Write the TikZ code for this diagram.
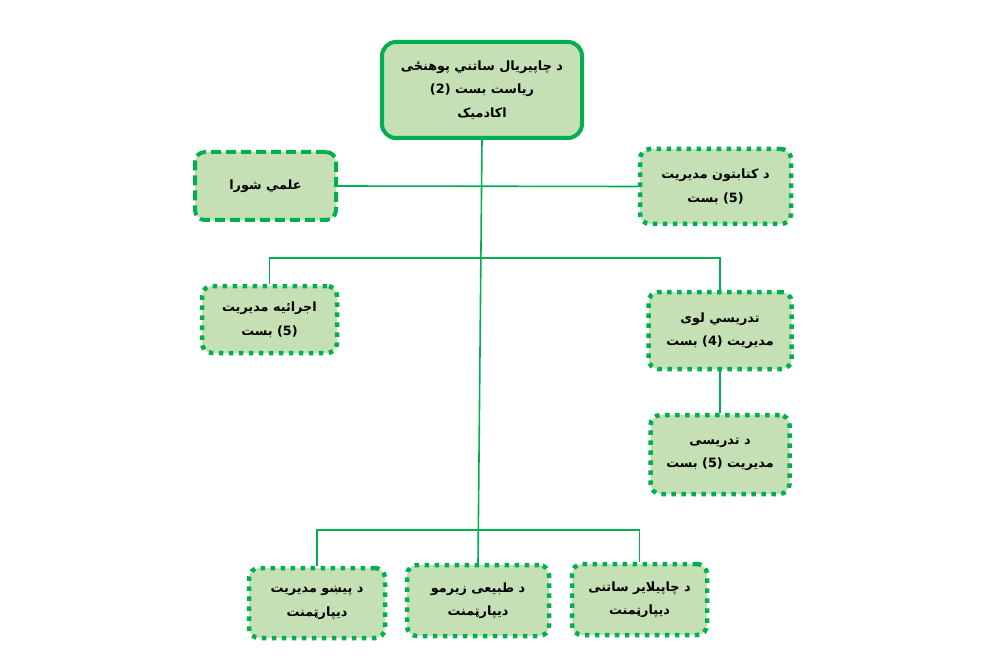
\documentclass[tikz,border=0pt]{standalone}
\usepackage{fontspec}
\TeXXeTstate=1
\newfontfamily\pashtofont[Script=Arabic]{DejaVu Sans}
\newcommand{\rtlline}[1]{\beginR #1\endR}
\definecolor{boxfill}{HTML}{C5E0B4}
\definecolor{boxline}{HTML}{00B050}
\tikzset{
  unit/.style={fill=boxfill, draw=boxline, rounded corners=10pt, align=center, inner sep=2pt,
    font=\pashtofont\bfseries\fontsize{12.8}{23.5}\selectfont},
  headunit/.style={unit, line width=4pt, rounded corners=14pt},
  councilunit/.style={unit, line width=4pt, dash pattern=on 10pt off 5pt},
  dotunit/.style={unit, line width=4.5pt, dash pattern=on 4.5pt off 5.5pt},
  link/.style={draw=boxline, line width=1.6pt}
}
\begin{document}
\begin{tikzpicture}[x=1pt, y=-1pt]
\useasboundingbox (0,0) rectangle (996,663);
\node[headunit, minimum width=200pt, minimum height=96pt] (head) at (482,90)
  {\rtlline{د چاپیریال ساتني پوهنځی}\\ \rtlline{ریاست بست (2)}\\ \rtlline{اکادمیک}};
\node[councilunit, minimum width=141pt, minimum height=68pt] (council) at (265.5,186)
  {\rtlline{علمي شورا}};
\node[dotunit, minimum width=151pt, minimum height=75pt] (library) at (715.5,186.5)
  {\rtlline{د کتابتون مدیریت}\\ \rtlline{(5) بست}};
\node[dotunit, minimum width=135pt, minimum height=67pt] (executive) at (269.5,319.5)
  {\rtlline{اجرائیه مدیریت}\\ \rtlline{(5) بست}};
\node[dotunit, minimum width=143pt, minimum height=77pt] (teachinghead) at (720,330.5)
  {\rtlline{تدریسي لوی}\\ \rtlline{مدیریت (4) بست}};
\node[dotunit, minimum width=139pt, minimum height=79pt] (teaching) at (720,454.5)
  {\rtlline{د تدریسی}\\ \rtlline{مدیریت (5) بست}};
\node[dotunit, minimum width=136pt, minimum height=70pt] (disasters) at (317,603)
  {\rtlline{د پیښو مدیریت}\\ \rtlline{دیپارټمنت}};
\node[dotunit, minimum width=142pt, minimum height=71pt] (resources) at (478,600.5)
  {\rtlline{د طبیعی زیرمو}\\ \rtlline{دیپارټمنت}};
\node[dotunit, minimum width=135pt, minimum height=71pt] (protection) at (639.5,599.5)
  {\rtlline{د چاپیلایر ساتنی}\\ \rtlline{دیپارټمنت}};
\draw[link] (head.south) -- (resources.north);
\draw[link] (council.east) -- (library.west);
\draw[link] (executive.north) -- (executive.north |- 0,258) -| (teachinghead.north);
\draw[link] (teachinghead.south) -- (teaching.north);
\draw[link] (disasters.north) -- (disasters.north |- 0,530) -| (protection.north);
\end{tikzpicture}
\end{document}
